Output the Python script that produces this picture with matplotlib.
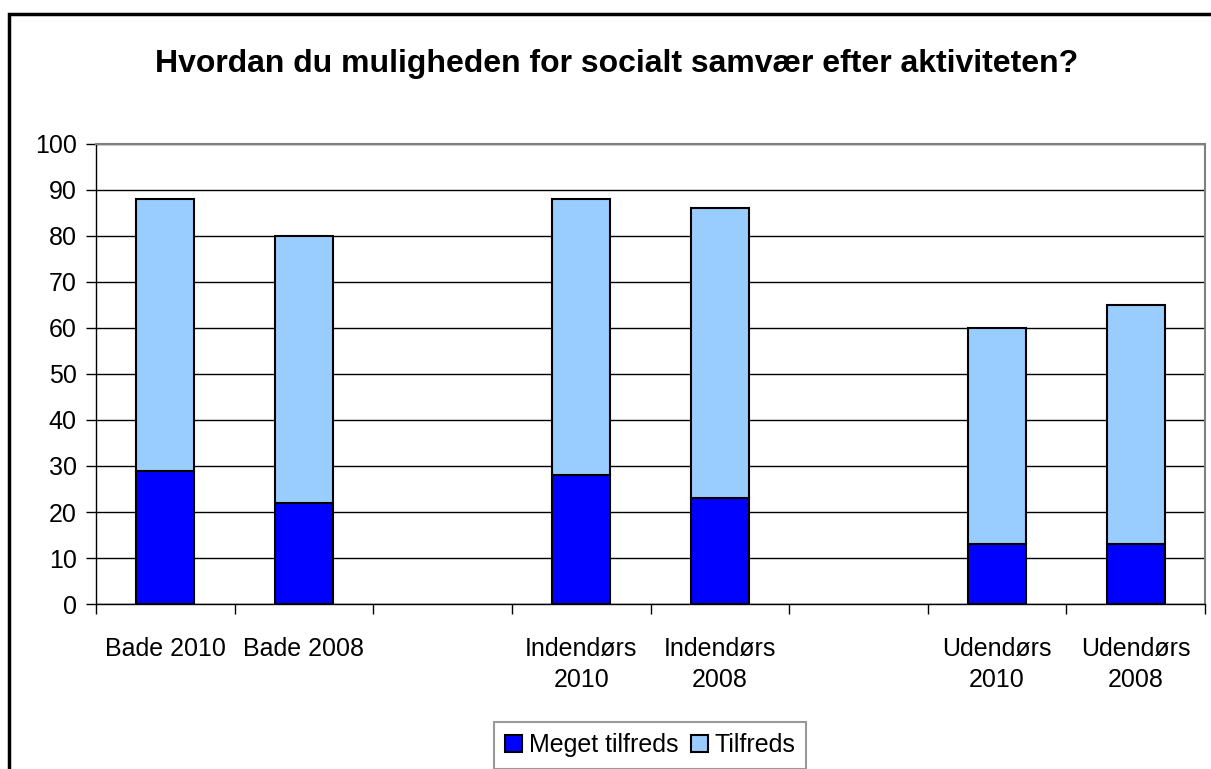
import numpy as np
import matplotlib.pyplot as plt
from matplotlib.patches import Rectangle

plt.rcParams['font.family'] = ['Liberation Sans', 'DejaVu Sans']

#data
categories = ['Bade 2010', 'Bade 2008', '', 'Indendørs\n2010', 'Indendørs\n2008', '',
              'Udendørs\n2010', 'Udendørs\n2008']
meget_tilfreds = [29, 22, 0, 28, 23, 0, 13, 13]
tilfreds = [59, 58, 0, 60, 63, 0, 47, 52]
title = 'Hvordan du muligheden for socialt samvær efter aktiviteten?'

fig = plt.figure(figsize=(12.11, 7.69), dpi=100)
ax = fig.add_axes([96/1211, 1-604/769, (1205-96)/1211, (604-144)/769])

x = np.arange(len(categories))
has_bar = [m + t > 0 for m, t in zip(meget_tilfreds, tilfreds)]
xs = x[has_bar]
m = np.array(meget_tilfreds)[has_bar]
t = np.array(tilfreds)[has_bar]

w = 0.42
ax.bar(xs, m, w, color='#0000FF', edgecolor='black', linewidth=1.5,
       label='Meget tilfreds', zorder=3)
ax.bar(xs, t, w, bottom=m, color='#99CCFF', edgecolor='black', linewidth=1.5,
       label='Tilfreds', zorder=3)

ax.set_xlim(-0.5, len(categories) - 0.5)
ax.set_ylim(0, 100)
ax.set_yticks(range(0, 101, 10))
ax.yaxis.grid(True, color='black', linewidth=1, zorder=0)
ax.tick_params(axis='y', labelsize=18, length=7, width=1, pad=7, direction='out')

ax.set_xticks(x)
ax.set_xticklabels(categories, fontsize=18, linespacing=1.35)
ax.set_xticks(np.arange(-0.5, len(categories), 1), minor=True)
ax.tick_params(axis='x', which='major', length=0, pad=24)
ax.tick_params(axis='x', which='minor', length=7, width=1, direction='out')

for s in ['top', 'right']:
    ax.spines[s].set_color('#808080')
    ax.spines[s].set_linewidth(1.5)
for s in ['left', 'bottom']:
    ax.spines[s].set_color('black')
    ax.spines[s].set_linewidth(1)

fig.text(617/1211, 1 - 72/769, title, ha='center', va='baseline',
         fontsize=23, fontweight='bold')

# outer chart frame
fig.patches.append(Rectangle((9/1211, -0.1), 1.2, 1.1 - 14/769, transform=fig.transFigure,
                             fill=False, edgecolor='black', linewidth=2.5))

leg = fig.legend(loc='upper center', bbox_to_anchor=(650/1211, 1 - 722/769), ncol=2,
                 fontsize=18, frameon=True, fancybox=False, edgecolor='#808080',
                 handlelength=0.7, handleheight=0.7, handletextpad=0.25,
                 columnspacing=0.5, borderpad=0.45, borderaxespad=0)
leg.get_frame().set_linewidth(1.5)

fig.savefig('out.png', dpi=100)
